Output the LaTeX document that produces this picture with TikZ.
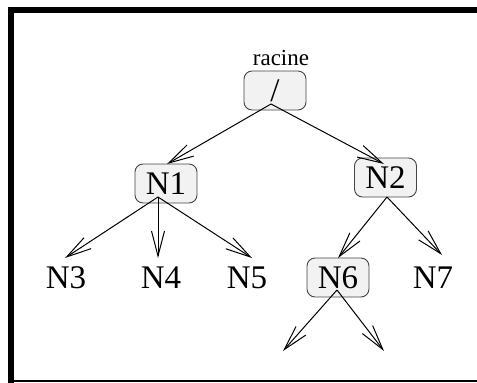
\documentclass[tikz,border=0pt]{standalone}
\usepackage{fontspec}
\setmainfont{Liberation Serif}
\usetikzlibrary{arrows.meta}

\definecolor{boxfill}{HTML}{F2F2F2}
\definecolor{boxline}{HTML}{454545}

\tikzset{
  treebox/.style={draw=boxline, fill=boxfill, rounded corners=8,
    minimum width=62, minimum height=39, inner sep=0pt, line width=0.9,
    font=\fontsize{33}{33}\selectfont},
  leaftext/.style={anchor=base, inner sep=0pt, font=\fontsize{33}{33}\selectfont},
  link/.style={-{Straight Barb[length=25,width=13]}, line width=1}
}

\begin{document}
\begin{tikzpicture}[x=1pt, y=-1pt]

  \useasboundingbox (0,0) rectangle (477,383);

  % frame
  \fill (8,7) rectangle (14,383);
  \fill (8,7) rectangle (477,13);
  \draw[line width=2] (14,381.3) -- (477,381.3);

  % tree nodes
  \node [anchor=base, inner sep=0pt, font=\fontsize{23}{23}\selectfont] (rootname) at (281,65) {racine};
  \node [treebox] (root) at (275,90.5) {/};
  \node [treebox] (n1) at (166,183.5) {N1};
  \node [treebox] (n2) at (385.5,177.5) {N2};
  \node [leaftext] (n3) at (66,288) {N3};
  \node [leaftext] (n4) at (161,288) {N4};
  \node [leaftext] (n5) at (247,288) {N5};
  \node [treebox] (n6) at (338,277.5) {N6};
  \node [leaftext] (n7) at (433,288) {N7};

  % connector ends
  \coordinate (root-out) at (271,104);
  \coordinate (n1-in) at (167,164);
  \coordinate (n1-out) at (158,197);
  \coordinate (n2-in) at (384,164);
  \coordinate (n2-out) at (387,197);
  \coordinate (n3-in) at (65,258);
  \coordinate (n4-in) at (158,258);
  \coordinate (n5-in) at (252,258);
  \coordinate (n6-in) at (338,258);
  \coordinate (n6-out) at (337,290);
  \coordinate (n7-in) at (442,255);
  \coordinate (leaf-a) at (283,351);
  \coordinate (leaf-b) at (384,351);

  \draw[link] (root-out) -- (n1-in);
  \draw[link] (root-out) -- (n2-in);
  \draw[link] (n1-out) -- (n3-in);
  \draw[link] (n1-out) -- (n4-in);
  \draw[link] (n1-out) -- (n5-in);
  \draw[link] (n2-out) -- (n6-in);
  \draw[link] (n2-out) -- (n7-in);
  \draw[link] (n6-out) -- (leaf-a);
  \draw[link] (n6-out) -- (leaf-b);

\end{tikzpicture}
\end{document}
